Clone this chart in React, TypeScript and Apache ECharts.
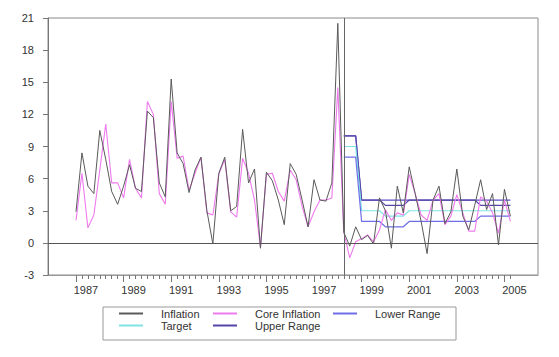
import React, { useEffect, useRef } from "react";
import * as echarts from "echarts";

// Quarterly data, first quarter = 1987 Q1
const START_YEAR = 1987;

const inflation = [
  2.9, 8.4, 5.3, 4.6, 10.5, 7.8, 4.8, 3.6, 5.3, 7.3,
  5.1, 4.8, 12.3, 11.7, 5.6, 4.3, 15.3, 8.4, 7.4, 4.7,
  6.8, 8.0, 3.0, -0.1, 6.5, 8.0, 3.0, 3.4, 10.6, 5.6,
  6.9, -0.5, 6.6, 5.8, 4.0, 1.7, 7.4, 6.4, 4.0, 1.5,
  5.9, 4.0, 3.9, 5.6, 20.5, 1.0, -0.3, 1.5, 0.3, 0.7,
  -0.1, 4.2, 3.0, -0.5, 5.3, 2.8, 7.1, 4.6, 2.0, -1.0,
  4.0, 5.3, 1.8, 2.9, 6.9, 2.5, 1.2, 3.5, 5.9, 3.1,
  4.6, -0.2, 5.0, 2.5,
];

const coreInflation = [
  2.1, 6.5, 1.4, 2.6, 6.8, 11.1, 5.6, 5.6, 4.2, 7.8,
  5.1, 4.2, 13.2, 12.0, 4.6, 3.6, 13.2, 7.9, 8.1, 4.9,
  6.5, 8.0, 2.8, 2.6, 6.4, 7.8, 2.9, 2.4, 7.9, 6.5,
  4.0, -0.4, 6.4, 6.5, 4.8, 3.9, 6.8, 5.9, 3.4, 1.5,
  2.9, 4.0, 4.0, 4.2, 14.5, 1.0, -1.4, 0.1, 0.4, 0.75,
  0.1, 1.2, 3.1, 2.1, 2.8, 2.6, 6.4, 4.6, 2.6, 2.1,
  4.0, 4.6, 1.7, 2.5, 4.5, 2.8, 1.1, 1.1, 4.3, 3.9,
  2.8, 0.9, 4.0, 2.0,
];

// Target band series start in 1998 Q2 (quarter index 45)
const RANGE_START = 45;
const upperRange = [
  10, 10, 10, 4, 4, 4, 4, 3.5, 3.5, 3.5, 3.5,
  4, 4, 4, 4, 4, 4, 4, 4, 4, 4, 4, 4,
  3.5, 3.5, 3.5, 3.5, 3.5, 3.5,
];
const targetRange = [
  9, 9, 9, 3, 3, 3, 3, 2.5, 2.5, 2.5, 2.5,
  3, 3, 3, 3, 3, 3, 3, 3, 3, 3, 3, 3,
  3, 3, 3, 3, 3, 3,
];
const lowerRange = [
  8, 8, 8, 2, 2, 2, 2, 1.5, 1.5, 1.5, 1.5,
  2, 2, 2, 2, 2, 2, 2, 2, 2, 2, 2, 2,
  2.5, 2.5, 2.5, 2.5, 2.5, 2.5,
];
const ceilingRange = [
  10, 10, 10, 4, 4, 4, 4, 4, 4, 4, 4,
  4, 4, 4, 4, 4, 4, 4, 4, 4, 4, 4, 4,
  4, 4, 4, 4, 4, 4,
];

const xLabelYears = [1987, 1989, 1991, 1993, 1995, 1997, 1999, 2001, 2003, 2005];
const REGIME_CHANGE = 1998.25;

const qx = (i: number) => START_YEAR + i / 4;
const toPairs = (arr: number[], offset = 0) => arr.map((v, i) => [qx(i + offset), v]);

const FONT = "Liberation Sans, Arial, sans-serif";

export default function App() {
  const ref = useRef<HTMLDivElement>(null);

  useEffect(() => {
    if (!ref.current) return;
    const chart = echarts.init(ref.current, undefined, { renderer: "svg" });

    const quarterTicks: number[] = [];
    for (let i = 0; i < inflation.length; i++) quarterTicks.push(qx(i));

    const xMin = 1985.824;
    const xMax = 2006.41;

    const lineSeries = (name: string, data: number[][], color: string, width: number, z: number) => ({
      name,
      type: "line",
      data,
      symbol: "none",
      showSymbol: false,
      lineStyle: { color, width },
      itemStyle: { color },
      z,
      silent: true,
    });

    const legendBase = {
      orient: "vertical",
      top: 308,
      padding: 0,
      itemGap: 1,
      itemWidth: 24,
      itemHeight: 2,
      icon: "rect",
      selectedMode: false,
      textStyle: { fontSize: 11, color: "#333", fontFamily: FONT, padding: [0, 0, 0, 13] },
    };

    chart.setOption({
      animation: false,
      backgroundColor: "#ffffff",
      textStyle: { fontFamily: FONT },
      grid: {
        left: 48,
        top: 18,
        right: 21,
        bottom: 82,
        show: true,
        borderColor: "#8a8a8a",
        borderWidth: 1,
        backgroundColor: "transparent",
      },
      xAxis: [
        {
          type: "value",
          min: xMin,
          max: xMax,
          position: "bottom",
          splitLine: { show: false },
          axisLine: { show: true, onZero: false, lineStyle: { color: "#999", width: 1 } },
          axisTick: {
            show: true,
            customValues: quarterTicks,
            length: 4,
            lineStyle: { color: "#777" },
          },
          axisLabel: {
            show: true,
            customValues: xLabelYears.map((y) => y + 0.42),
            formatter: (v: number) => String(Math.round(v - 0.42)),
            fontSize: 11,
            color: "#333",
            margin: 9,
            fontFamily: FONT,
          },
        },
        {
          type: "value",
          min: xMin,
          max: xMax,
          position: "bottom",
          splitLine: { show: false },
          axisLine: { show: false, onZero: false },
          axisTick: {
            show: true,
            customValues: xLabelYears,
            length: 7,
            lineStyle: { color: "#777" },
          },
          axisLabel: { show: false },
        },
      ],
      yAxis: {
        type: "value",
        min: -3,
        max: 21,
        interval: 3,
        splitLine: { show: false },
        axisLine: { show: true, lineStyle: { color: "#777" } },
        axisTick: { show: true, length: 5, lineStyle: { color: "#777" } },
        axisLabel: { fontSize: 11, color: "#333", margin: 14, fontFamily: FONT },
      },
      legend: [
        { ...legendBase, left: 119, data: ["Inflation", "Target"] },
        { ...legendBase, left: 213, data: ["Core Inflation", "Upper Range"] },
        { ...legendBase, left: 333, data: ["Lower Range"] },
      ],
      graphic: [
        {
          type: "rect",
          shape: { x: 103, y: 307, width: 353, height: 33 },
          style: { fill: "none", stroke: "#999", lineWidth: 1 },
          silent: true,
        },
      ],
      series: [
        lineSeries("Ceiling", toPairs(ceilingRange, RANGE_START), "#5a4fc8", 1.2, 2),
        lineSeries("Upper Range", toPairs(upperRange, RANGE_START), "#5545a8", 1.2, 2),
        lineSeries("Target", toPairs(targetRange, RANGE_START), "#7fe3e3", 1.2, 2),
        lineSeries("Lower Range", toPairs(lowerRange, RANGE_START), "#6e6ee8", 1.2, 2),
        lineSeries("Core Inflation", toPairs(coreInflation), "#ee7aee", 1.1, 3),
        {
          ...lineSeries("Inflation", toPairs(inflation), "#5a5a5a", 1, 4),
          markLine: {
            silent: true,
            symbol: ["none", "none"],
            label: { show: false },
            animation: false,
            data: [
              { yAxis: 0, lineStyle: { color: "#555", width: 1, type: "solid" } },
              { xAxis: REGIME_CHANGE, lineStyle: { color: "#666", width: 1, type: "solid" } },
            ],
          },
        },
      ],
    });

    return () => chart.dispose();
  }, []);

  return (
    <div
      ref={ref}
      style={{ position: "fixed", left: 0, top: 0, width: 559, height: 357 }}
    />
  );
}
